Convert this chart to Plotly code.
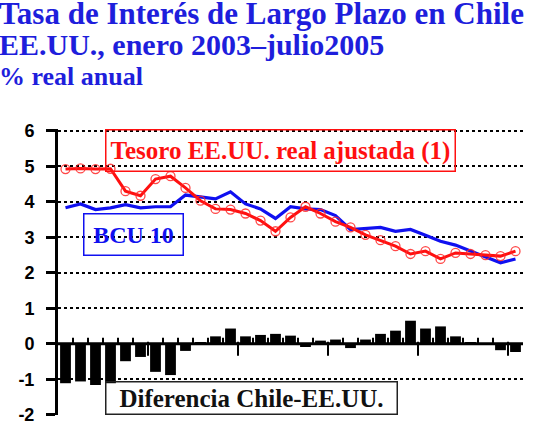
import plotly.graph_objects as go

# Months: January 2003 (0) ... July 2005 (30)
month_labels = ["ene-03", "feb-03", "mar-03", "abr-03", "may-03", "jun-03", "jul-03", "ago-03",
                "sep-03", "oct-03", "nov-03", "dic-03", "ene-04", "feb-04", "mar-04", "abr-04",
                "may-04", "jun-04", "jul-04", "ago-04", "sep-04", "oct-04", "nov-04", "dic-04",
                "ene-05", "feb-05", "mar-05", "abr-05", "may-05", "jun-05", "jul-05"]
months = list(range(len(month_labels)))

tesoro = [4.92, 4.94, 4.92, 4.93, 4.30, 4.17, 4.64, 4.72, 4.39, 4.03, 3.80, 3.78, 3.67, 3.47,
          3.17, 3.56, 3.86, 3.67, 3.44, 3.28, 3.07, 2.92, 2.75, 2.53, 2.61, 2.39, 2.56, 2.53,
          2.50, 2.47, 2.61]
bcu10 = [3.83, 3.94, 3.78, 3.83, 3.92, 3.83, 3.86, 3.86, 4.19, 4.14, 4.08, 4.28, 3.94, 3.80,
         3.53, 3.86, 3.80, 3.78, 3.61, 3.22, 3.25, 3.28, 3.17, 3.22, 3.06, 2.89, 2.78, 2.61,
         2.44, 2.28, 2.39]
diferencia = [-1.11, -1.06, -1.16, -1.11, -0.49, -0.37, -0.79, -0.88, -0.20, 0.05, 0.21, 0.43,
              0.21, 0.25, 0.28, 0.23, -0.09, 0.09, 0.12, -0.12, 0.12, 0.28, 0.37, 0.65, 0.43,
              0.49, 0.21, 0.05, 0.01, -0.18, -0.23]
y_ticks = [-2, -1, 0, 1, 2, 3, 4, 5, 6]

SERIF = "Liberation Serif"
TITLE_BLUE = "#1E1EDC"
RED = "#FF1010"
BLUE = "#1010F0"

xr = [-0.5, 30.5]

# month boundaries (where the category tick marks sit on the zero line)
boundaries = [m + 0.5 for m in months[:-1]]
minor_b = [b for b in boundaries if (b + 0.5) % 6 != 0]
major_b = [b for b in boundaries if (b + 0.5) % 6 == 0]

fig = go.Figure()

fig.add_trace(go.Bar(x=months, y=diferencia, width=0.72,
                     marker=dict(color="black", line=dict(width=0))))
# horizontal axis line at zero, across the full x range
fig.add_trace(go.Scatter(x=xr, y=[0, 0], mode="lines",
                         line=dict(color="black", width=3), hoverinfo="skip"))
# category tick marks on the zero line: short ones up (monthly), longer ones down (semester)
fig.add_trace(go.Scatter(x=minor_b, y=[0.07] * len(minor_b), mode="markers",
                         marker=dict(symbol="line-ns-open", size=5, color="black",
                                     line=dict(color="black", width=2)),
                         hoverinfo="skip"))
fig.add_trace(go.Scatter(x=major_b, y=[-0.14] * len(major_b), mode="markers",
                         marker=dict(symbol="line-ns-open", size=10, color="black",
                                     line=dict(color="black", width=2)),
                         hoverinfo="skip"))
fig.add_trace(go.Scatter(x=months, y=bcu10, mode="lines",
                         line=dict(color=BLUE, width=3.2)))
fig.add_trace(go.Scatter(x=months, y=tesoro, mode="lines+markers",
                         line=dict(color=RED, width=3),
                         marker=dict(symbol="circle-open", size=9, color="rgba(255,40,40,0.85)",
                                     line=dict(width=1.3))))

fig.update_layout(
    width=541, height=437,
    margin=dict(l=58, r=18, t=129, b=18),
    paper_bgcolor="white", plot_bgcolor="white",
    showlegend=False, barmode="overlay",
    xaxis=dict(range=xr, showline=False, ticks="", showticklabels=False,
               showgrid=False, zeroline=False),
    yaxis=dict(range=[-2.005, 6.05], tickmode="array", tickvals=y_ticks,
               ticktext=[str(v) for v in y_ticks],
               ticks="outside", ticklen=9, tickwidth=2.5, tickcolor="black",
               showline=True, linecolor="black", linewidth=3,
               showgrid=True, gridcolor="black", gridwidth=2, griddash="dot",
               zeroline=False, ticklabelstandoff=8,
               tickfont=dict(family="Liberation Sans", size=18, color="black", weight="bold")),
)

# Title lines
fig.add_annotation(xref="paper", yref="paper", x=-0.131, y=1.404, xanchor="left", yanchor="middle",
                   text="<b>Tasa de Interés de Largo Plazo en Chile</b>", showarrow=False,
                   font=dict(family=SERIF, size=31, color=TITLE_BLUE))
fig.add_annotation(xref="paper", yref="paper", x=-0.131, y=1.294, xanchor="left", yanchor="middle",
                   text="<b>EE.UU., enero 2003–julio2005</b>", showarrow=False,
                   font=dict(family=SERIF, size=30, color=TITLE_BLUE))
fig.add_annotation(xref="paper", yref="paper", x=-0.131, y=1.183, xanchor="left", yanchor="middle",
                   text="<b>% real anual</b>", showarrow=False,
                   font=dict(family=SERIF, size=26, color=TITLE_BLUE))

# Series labels in boxes
fig.add_annotation(x=14.3, y=5.444, xref="x", yref="y", showarrow=False,
                   text="<b>Tesoro EE.UU. real ajustada (1)</b>", width=348, height=40,
                   align="center", valign="middle", borderpad=0,
                   bordercolor=RED, borderwidth=1.5,
                   font=dict(family=SERIF, size=25, color=RED))
fig.add_annotation(x=4.5, y=3.083, xref="x", yref="y", showarrow=False,
                   text="<b>BCU 10</b>", width=98, height=40,
                   align="center", valign="middle", borderpad=0,
                   bordercolor=BLUE, borderwidth=1.5,
                   font=dict(family=SERIF, size=24, color=BLUE))
fig.add_annotation(x=12.37, y=-1.54, xref="x", yref="y", showarrow=False,
                   text="<b>Diferencia Chile-EE.UU.</b>", width=290, height=31,
                   align="center", valign="middle", borderpad=0,
                   bordercolor="#222222", borderwidth=1.5,
                   font=dict(family=SERIF, size=25, color="#111111"))

fig.write_html("out.html")
